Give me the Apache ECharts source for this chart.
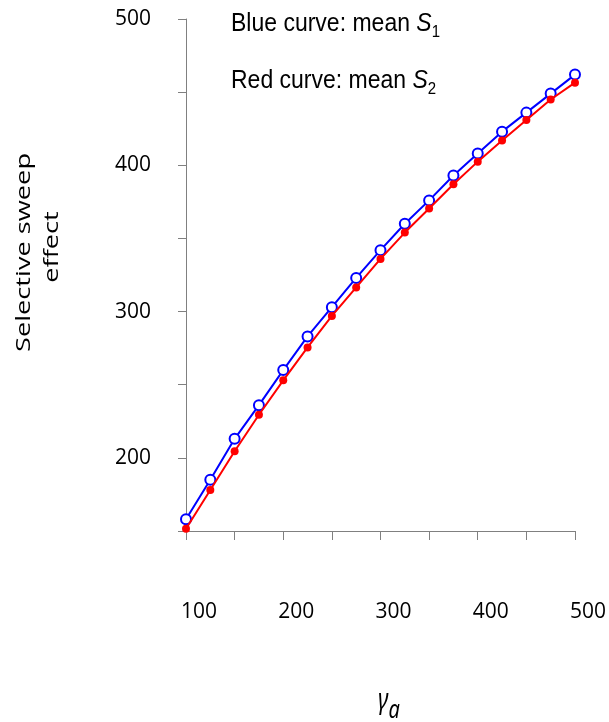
<!DOCTYPE html>
<html>
<head>
<meta charset="utf-8">
<script src="https://cdn.jsdelivr.net/npm/echarts@6/dist/echarts.min.js"></script>
<style>
html,body{margin:0;padding:0;background:#fff;}
#main{width:609px;height:722px;}
</style>
</head>
<body>
<div id="main"></div>
<script>
const gammaA = [100,125,150,175,200,225,250,275,300,325,350,375,400,425,450,475,500];
const meanS1 = [158,185,213,236,260,283,303,323,342,360,376,393,408,423,436,449,462];
const meanS2 = [151.5,178,204.5,229.5,253,275.5,297,316.5,336,354,370.5,387,402.5,417,431,445,456.5];
const xTickLabels = [100,200,300,400,500];
const yTickLabels = [200,300,400,500];

const chart = echarts.init(document.getElementById('main'), null, {renderer:'canvas'});
const axisGray = '#808080';
chart.setOption({
  animation:false,
  backgroundColor:'#ffffff',
  grid:{left:186,right:31,top:19,bottom:191,containLabel:false},
  xAxis:{
    type:'value', min:100, max:500, interval:50,
    axisLine:{show:true,lineStyle:{color:axisGray,width:1}},
    axisTick:{show:true,inside:false,length:9,lineStyle:{color:axisGray}},
    splitLine:{show:false},
    axisLabel:{
      margin:71, fontFamily:'Open Sans', fontSize:21, color:'#000',
      padding:[0,0,0,26],
      formatter:v=> xTickLabels.indexOf(v)>=0 ? String(v) : ''
    }
  },
  yAxis:{
    type:'value', min:150, max:500, interval:50,
    axisLine:{show:true,lineStyle:{color:axisGray,width:1}},
    axisTick:{show:true,inside:false,length:8,lineStyle:{color:axisGray}},
    splitLine:{show:false},
    axisLabel:{
      margin:35, fontFamily:'Open Sans', fontSize:21, color:'#000',
      formatter:v=> yTickLabels.indexOf(v)>=0 ? String(v) : ''
    }
  },
  series:[
    {
      name:'mean S1', type:'line',
      data: gammaA.map((x,i)=>[x,meanS1[i]]),
      symbol:'emptyCircle', symbolSize:10,
      lineStyle:{color:'#0000ff',width:2},
      itemStyle:{color:'#0000ff',borderColor:'#0000ff',borderWidth:2},
      z:2
    },
    {
      name:'mean S2', type:'line',
      data: gammaA.map((x,i)=>[x,meanS2[i]]),
      symbol:'circle', symbolSize:8,
      lineStyle:{color:'#ff0000',width:2},
      itemStyle:{color:'#ff0000'},
      z:3
    }
  ],
  graphic:[
    {
      type:'text', x:24, y:252.5, rotation:Math.PI/2, scaleX:1.36, scaleY:1,
      style:{
        text:'Selective sweep',
        fontFamily:'Open Sans', fontSize:20,
        fill:'#000', align:'center', verticalAlign:'middle'
      }
    },
    {
      type:'text', x:52, y:247, rotation:Math.PI/2, scaleX:1.36, scaleY:1,
      style:{
        text:'effect',
        fontFamily:'Open Sans', fontSize:20,
        fill:'#000', align:'center', verticalAlign:'middle'
      }
    },
    {
      type:'text', x:389, y:701, scaleY:1.3,
      style:{
        text:'{g|γ}{a|a}',
        align:'center', verticalAlign:'middle',
        rich:{
          g:{fontFamily:'Noto Sans', fontStyle:'italic', fontSize:22, fill:'#000', color:'#000'},
          a:{fontFamily:'Noto Sans', fontStyle:'italic', fontSize:20, fill:'#000', color:'#000', padding:[14,0,0,0]}
        }
      }
    },
    {
      type:'text', x:231, y:24, scaleY:1.1,
      style:{
        text:'{t|Blue curve: mean }{s|S}{b|1}',
        align:'left', verticalAlign:'middle',
        rich:{
          t:{fontFamily:'Liberation Sans', fontSize:23, fill:'#000', color:'#000'},
          s:{fontFamily:'Liberation Sans', fontStyle:'italic', fontSize:23, fill:'#000', color:'#000'},
          b:{fontFamily:'Liberation Sans', fontSize:15, fill:'#000', color:'#000', padding:[15,0,0,0]}
        }
      }
    },
    {
      type:'text', x:231, y:81, scaleY:1.1,
      style:{
        text:'{t|Red curve: mean }{s|S}{b|2}',
        align:'left', verticalAlign:'middle',
        rich:{
          t:{fontFamily:'Liberation Sans', fontSize:23, fill:'#000', color:'#000'},
          s:{fontFamily:'Liberation Sans', fontStyle:'italic', fontSize:23, fill:'#000', color:'#000'},
          b:{fontFamily:'Liberation Sans', fontSize:15, fill:'#000', color:'#000', padding:[15,0,0,0]}
        }
      }
    }
  ]
});
</script>
</body>
</html>
